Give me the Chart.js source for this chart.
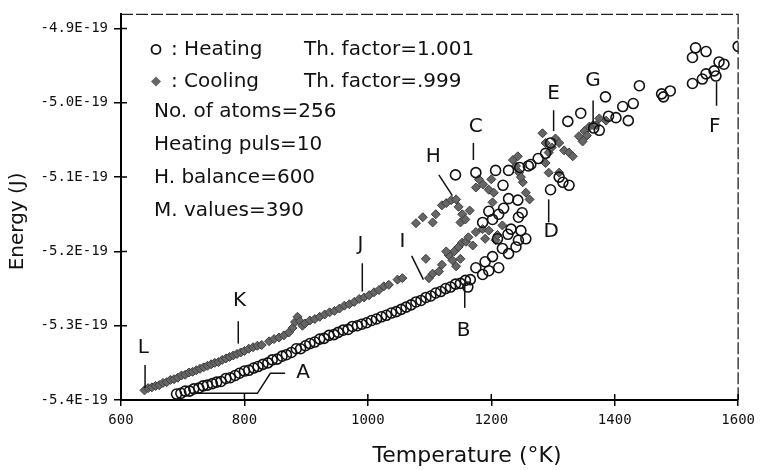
<!DOCTYPE html>
<html>
<head>
<meta charset="utf-8">
<script src="https://cdn.jsdelivr.net/npm/chart.js@4.4.0/dist/chart.umd.min.js"></script>
<style>
  html, body { margin: 0; padding: 0; background: #fff; }
</style>
</head>
<body>
<canvas id="energyChart" width="761" height="470"></canvas>
<script>
// energies are in units of 1E-19 J

// heating run (open circles)
const heatTemp = [
  690, 697, 704, 711, 718, 726, 733, 740, 748, 755, 762, 770, 777, 785, 792, 800,
  807, 815, 822, 830, 838, 845, 853, 861, 868, 876, 884, 891, 899, 906, 914, 922,
  929, 937, 945, 952, 960, 968, 975, 983, 990, 998, 1006, 1014, 1022, 1030, 1038, 1046,
  1054, 1062, 1070, 1078, 1086, 1094, 1102, 1110, 1118, 1126, 1134, 1142, 1150, 1158, 1166, 1162,
  1175, 1186, 1190, 1202, 1196, 1212, 1228, 1218, 1240, 1244, 1256, 1227, 1210, 1232, 1248,
  1186, 1202, 1212, 1196, 1220, 1244, 1250, 1243, 1228, 1219, 1228, 1246, 1260,
  1142, 1175, 1207, 1264, 1276, 1288, 1296,
  1296, 1316, 1326, 1310,
  1324, 1345, 1366, 1375, 1385, 1390, 1402, 1413, 1422, 1430, 1440,
  1476, 1479, 1490, 1526, 1542, 1548, 1561, 1564, 1569, 1577, 1526, 1531, 1548, 1600
];
const heatEnergy = [
  -5.392, -5.391, -5.388, -5.388, -5.385, -5.384, -5.381, -5.380, -5.378, -5.376, -5.375, -5.371, -5.370, -5.367, -5.364, -5.361,
  -5.360, -5.357, -5.355, -5.352, -5.350, -5.346, -5.345, -5.341, -5.339, -5.336, -5.331, -5.331, -5.327, -5.324, -5.322, -5.318,
  -5.317, -5.313, -5.312, -5.309, -5.306, -5.305, -5.301, -5.300, -5.298, -5.296, -5.293, -5.291, -5.288, -5.286, -5.283, -5.281,
  -5.278, -5.275, -5.272, -5.268, -5.266, -5.262, -5.260, -5.256, -5.254, -5.250, -5.248, -5.244, -5.243, -5.239, -5.238, -5.248,
  -5.222, -5.231, -5.214, -5.207, -5.226, -5.222, -5.203, -5.196, -5.194, -5.185, -5.183, -5.177, -5.183, -5.170, -5.172,
  -5.161, -5.157, -5.150, -5.146, -5.142, -5.154, -5.148, -5.131, -5.129, -5.111, -5.091, -5.087, -5.085,
  -5.097, -5.094, -5.091, -5.083, -5.075, -5.068, -5.054,
  -5.117, -5.107, -5.111, -5.100,
  -5.025, -5.014, -5.034, -5.037, -4.992, -5.018, -5.020, -5.005, -5.024, -5.001, -4.977,
  -4.988, -4.992, -4.984, -4.974, -4.968, -4.961, -4.957, -4.964, -4.945, -4.948, -4.939, -4.926, -4.931, -4.924
];

// cooling run (filled diamonds)
const coolTemp = [
  638, 644, 650, 656, 662, 668, 674, 680, 686, 692, 698, 704, 710, 716, 722, 728,
  734, 740, 746, 752, 758, 764, 770, 776, 782, 788, 794, 800, 807, 814, 821, 828,
  840, 848, 856, 864, 872, 878, 882, 886, 890, 894, 898, 906, 914, 922, 930, 938,
  946, 954, 962, 970, 978, 986, 994, 1002, 1010, 1018, 1026, 1034, 1048, 1056,
  1094, 1099, 1105, 1115, 1120, 1131, 1137, 1140, 1147, 1153, 1159, 1163, 1127, 1143, 1150,
  1175, 1186, 1196, 1207, 1218, 1210, 1190, 1170,
  1078, 1089, 1105, 1110, 1120, 1127, 1135, 1143, 1147, 1153, 1150, 1158, 1165,
  1175, 1180, 1187, 1196, 1204, 1200, 1202, 1235, 1243, 1245, 1240, 1251, 1256, 1248, 1262,
  1283, 1288, 1293, 1288, 1293, 1298, 1304, 1310, 1318, 1326, 1332, 1310,
  1342, 1348, 1351, 1359, 1355, 1365, 1370, 1375, 1386
];
const coolEnergy = [
  -5.387, -5.384, -5.383, -5.381, -5.380, -5.377, -5.376, -5.373, -5.372, -5.370, -5.367, -5.366, -5.363, -5.362, -5.360, -5.358,
  -5.356, -5.354, -5.352, -5.350, -5.349, -5.346, -5.344, -5.342, -5.340, -5.338, -5.336, -5.334, -5.331, -5.329, -5.327, -5.326,
  -5.321, -5.318, -5.316, -5.313, -5.309, -5.303, -5.295, -5.288, -5.294, -5.300, -5.297, -5.293, -5.291, -5.288, -5.285, -5.282,
  -5.280, -5.277, -5.273, -5.271, -5.268, -5.264, -5.262, -5.259, -5.255, -5.252, -5.247, -5.245, -5.238, -5.236,
  -5.210, -5.236, -5.230, -5.227, -5.218, -5.205, -5.212, -5.200, -5.194, -5.188, -5.187, -5.181, -5.200, -5.220, -5.210,
  -5.174, -5.170, -5.172, -5.185, -5.165, -5.178, -5.183, -5.192,
  -5.162, -5.154, -5.161, -5.150, -5.138, -5.135, -5.131, -5.130, -5.140, -5.150, -5.161, -5.157, -5.145,
  -5.114, -5.103, -5.110, -5.117, -5.121, -5.103, -5.134, -5.077, -5.072, -5.094, -5.085, -5.107, -5.121, -5.100, -5.130,
  -5.041, -5.054, -5.067, -5.081, -5.094, -5.060, -5.048, -5.054, -5.064, -5.067, -5.072, -5.094,
  -5.045, -5.052, -5.038, -5.032, -5.044, -5.030, -5.030, -5.021, -5.024
];

const xTicks = [600, 800, 1000, 1200, 1400, 1600];
const yTicks = [-5.4, -5.3, -5.2, -5.1, -5.0, -4.9];

const legendRows = [': Heating', ': Cooling'];
const legendFactors = ['Th. factor=1.001', 'Th. factor=.999'];
const infoLines = ['No. of atoms=256', 'Heating puls=10', 'H. balance=600', 'M. values=390'];

// letter labels on the curves: letter, text position, leader line (all in data units)
const letterNames = ['A', 'B', 'C', 'D', 'E', 'F', 'G', 'H', 'I', 'J', 'K', 'L'];
const letterPos = [
  [895, -5.364], [1155, -5.307], [1175, -5.032], [1297, -5.174], [1301, -4.988], [1562, -5.032],
  [1365, -4.970], [1106, -5.072], [1056, -5.187], [988, -5.191], [792, -5.267], [636, -5.330]
];
const letterLeaders = [
  [[866, -5.364], [842, -5.364], [821, -5.391], [715, -5.391]],
  [[1157, -5.247], [1157, -5.276]],
  [[1171, -5.054], [1171, -5.077]],
  [[1293, -5.130], [1293, -5.161]],
  [[1301, -5.010], [1301, -5.038]],
  [[1565, -4.972], [1565, -5.004]],
  [[1365, -4.997], [1365, -5.028]],
  [[1115, -5.097], [1137, -5.125]],
  [[1071, -5.206], [1090, -5.238]],
  [[991, -5.216], [991, -5.254]],
  [[790, -5.294], [790, -5.324]],
  [[639, -5.353], [639, -5.384]]
];

const FONT = '"DejaVu Sans", sans-serif';
const TICK_FONT = '"DejaVu Sans Mono", monospace';

const scanExtras = {
  id: 'scanExtras',
  afterDraw(chart) {
    const { ctx, chartArea: a } = chart;
    const x = chart.scales.x, y = chart.scales.y;
    ctx.save();

    // top and right edges of the frame
    ctx.strokeStyle = '#222';
    ctx.lineWidth = 1.3;
    ctx.setLineDash([12, 3]);
    ctx.beginPath();
    ctx.moveTo(a.left, a.top);
    ctx.lineTo(a.right, a.top);
    ctx.lineTo(a.right, a.bottom);
    ctx.stroke();
    ctx.setLineDash([]);

    // tick marks reaching into the plot
    ctx.strokeStyle = '#000';
    ctx.lineWidth = 1.5;
    ctx.beginPath();
    xTicks.forEach(v => {
      const px = x.getPixelForValue(v);
      ctx.moveTo(px, a.bottom);
      ctx.lineTo(px, a.bottom - 6);
    });
    yTicks.forEach(v => {
      const py = y.getPixelForValue(v);
      ctx.moveTo(a.left, py);
      ctx.lineTo(a.left + 6, py);
    });
    ctx.stroke();

    // axis titles
    ctx.fillStyle = '#111';
    ctx.textAlign = 'center';
    ctx.textBaseline = 'middle';
    ctx.font = '22px ' + FONT;
    ctx.fillText('Temperature (°K)', a.left + 346, a.bottom + 56);
    ctx.save();
    ctx.translate(18, a.top + 207);
    ctx.rotate(-Math.PI / 2);
    ctx.font = '20px ' + FONT;
    ctx.fillText('Energy (J)', 0, 0);
    ctx.restore();

    // legend + run info
    ctx.font = '20px ' + FONT;
    ctx.textAlign = 'left';
    const lx = a.left + 35;
    const rowY = [a.top + 35, a.top + 67];
    ctx.lineWidth = 1.8;
    ctx.strokeStyle = '#111';
    ctx.beginPath();
    ctx.arc(lx, rowY[0], 4.5, 0, Math.PI * 2);
    ctx.stroke();
    ctx.fillStyle = '#666';
    ctx.beginPath();
    ctx.moveTo(lx, rowY[1] - 5);
    ctx.lineTo(lx + 5, rowY[1]);
    ctx.lineTo(lx, rowY[1] + 5);
    ctx.lineTo(lx - 5, rowY[1]);
    ctx.closePath();
    ctx.fill();
    ctx.fillStyle = '#111';
    legendRows.forEach((t, i) => ctx.fillText(t, lx + 15, rowY[i]));
    legendFactors.forEach((t, i) => ctx.fillText(t, a.left + 183, rowY[i]));
    infoLines.forEach((t, i) => ctx.fillText(t, a.left + 33, a.top + 97 + i * 33));

    // letter labels with leader lines
    ctx.lineWidth = 1.5;
    ctx.strokeStyle = '#111';
    ctx.textAlign = 'center';
    letterNames.forEach((name, i) => {
      const pts = letterLeaders[i];
      ctx.beginPath();
      pts.forEach((p, j) => {
        const px = x.getPixelForValue(p[0]);
        const py = y.getPixelForValue(p[1]);
        if (j === 0) ctx.moveTo(px, py); else ctx.lineTo(px, py);
      });
      ctx.stroke();
      ctx.fillText(name, x.getPixelForValue(letterPos[i][0]), y.getPixelForValue(letterPos[i][1]));
    });

    ctx.restore();
  }
};

const toPoints = (xs, ys) => xs.map((t, i) => ({ x: t, y: ys[i] }));

new Chart(document.getElementById('energyChart'), {
  type: 'scatter',
  data: {
    datasets: [
      {
        label: 'Heating',
        data: toPoints(heatTemp, heatEnergy),
        pointStyle: 'circle',
        pointRadius: 5,
        pointBorderWidth: 1.6,
        borderColor: '#111',
        backgroundColor: 'rgba(255,255,255,0)'
      },
      {
        label: 'Cooling',
        data: toPoints(coolTemp, coolEnergy),
        pointStyle: 'rectRot',
        pointRadius: 4.5,
        pointBorderWidth: 1,
        borderColor: '#3c3c3c',
        backgroundColor: '#666'
      }
    ]
  },
  options: {
    responsive: false,
    animation: false,
    devicePixelRatio: 1,
    layout: { padding: { left: 0, right: 19, top: 10, bottom: 0 } },
    plugins: {
      legend: { display: false },
      tooltip: { enabled: false }
    },
    scales: {
      x: {
        type: 'linear',
        min: 600,
        max: 1600,
        afterBuildTicks: axis => { axis.ticks = xTicks.map(v => ({ value: v })); },
        afterFit: axis => { axis.height = 70; },
        border: { color: '#000', width: 2 },
        grid: { drawOnChartArea: false, color: '#000', tickLength: 6, lineWidth: 1.5 },
        ticks: {
          color: '#111',
          font: { family: TICK_FONT, size: 14 },
          padding: 6,
          maxRotation: 0,
          callback: v => String(v)
        }
      },
      y: {
        type: 'linear',
        min: -5.4,
        max: -4.881,
        afterBuildTicks: axis => { axis.ticks = yTicks.map(v => ({ value: v })); },
        afterFit: axis => { axis.width = 121; },
        border: { color: '#000', width: 2 },
        grid: { drawOnChartArea: false, color: '#000', tickLength: 7, lineWidth: 1.5 },
        ticks: {
          color: '#111',
          font: { family: TICK_FONT, size: 14 },
          padding: 6,
          callback: v => v.toFixed(1) + 'E-19'
        }
      }
    }
  },
  plugins: [scanExtras]
});
</script>
</body>
</html>
